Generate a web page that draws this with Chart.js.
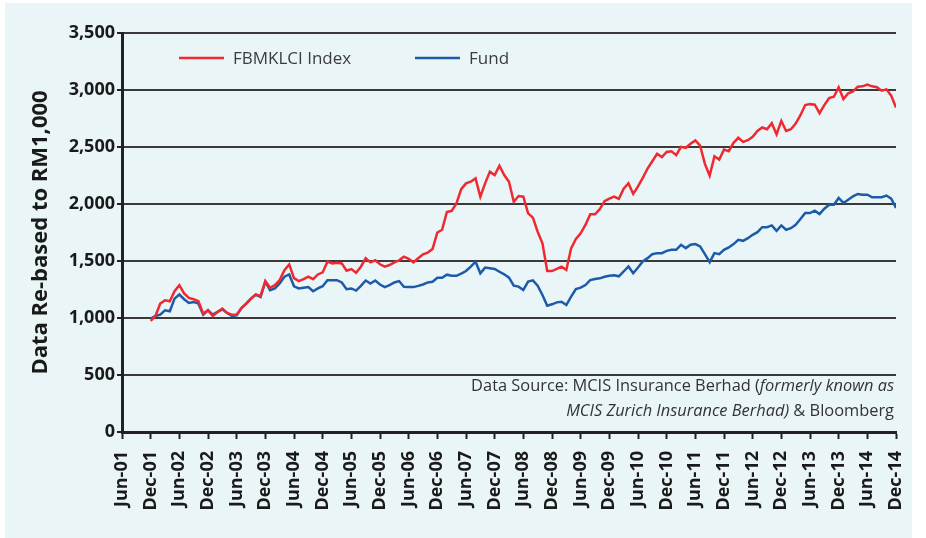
<!DOCTYPE html>
<html>
<head>
<meta charset="utf-8">
<script src="https://cdn.jsdelivr.net/npm/chart.js@4"></script>
<style>
  html, body { margin: 0; padding: 0; background: #ffffff; }
  canvas { display: block; }
</style>
</head>
<body>
<canvas id="fundChart" width="926" height="538"></canvas>
<script>
// x axis: months counted from Jun-01 (0) to Dec-14 (162), labelled every 6 months
var tickLabels = ["Jun-01", "Dec-01", "Jun-02", "Dec-02", "Jun-03", "Dec-03", "Jun-04", "Dec-04",
  "Jun-05", "Dec-05", "Jun-06", "Dec-06", "Jun-07", "Dec-07", "Jun-08", "Dec-08", "Jun-09", "Dec-09",
  "Jun-10", "Dec-10", "Jun-11", "Dec-11", "Jun-12", "Dec-12", "Jun-13", "Dec-13", "Jun-14", "Dec-14"];
var firstMonth = 6; // series start Dec-01

// monthly values, Dec-01 .. Dec-14
var fbmklciValues = [
  975, 1018, 1126, 1156, 1147, 1235, 1288, 1215, 1176, 1165,
  1147, 1038, 1068, 1018, 1053, 1082, 1044, 1029, 1029, 1088,
  1126, 1170, 1206, 1194, 1324, 1265, 1288, 1332, 1420, 1470,
  1350, 1324, 1341, 1362, 1341, 1382, 1400, 1494, 1479, 1485,
  1479, 1415, 1429, 1397, 1450, 1524, 1488, 1506, 1471, 1450,
  1465, 1488, 1506, 1538, 1518, 1488, 1524, 1559, 1574, 1606,
  1750, 1774, 1930, 1940, 2005, 2130, 2181, 2196, 2225, 2064,
  2181, 2284, 2254, 2336, 2254, 2196, 2020, 2070, 2064, 1918,
  1880, 1757, 1655, 1412, 1412, 1430, 1450, 1421, 1611, 1693,
  1743, 1816, 1909, 1909, 1955, 2025, 2047, 2065, 2045, 2135,
  2182, 2088, 2155, 2229, 2311, 2375, 2440, 2411, 2457, 2463,
  2428, 2501, 2493, 2528, 2557, 2513, 2352, 2249, 2419, 2390,
  2478, 2463, 2537, 2581, 2545, 2560, 2590, 2641, 2671, 2656,
  2709, 2612, 2729, 2641, 2656, 2706, 2779, 2868, 2876, 2871,
  2797, 2868, 2929, 2941, 3024, 2921, 2971, 2988, 3029, 3032,
  3047, 3032, 3024, 2994, 3006, 2950, 2847
];
var fundValues = [
  995, 1018, 1029, 1068, 1059, 1170, 1206, 1165, 1132, 1141,
  1126, 1029, 1068, 1029, 1053, 1076, 1044, 1018, 1024, 1088,
  1126, 1170, 1206, 1185, 1318, 1244, 1259, 1303, 1362, 1382,
  1278, 1259, 1265, 1271, 1235, 1259, 1279, 1332, 1332, 1332,
  1312, 1253, 1259, 1241, 1282, 1329, 1303, 1329, 1294, 1271,
  1288, 1312, 1324, 1274, 1271, 1271, 1282, 1294, 1312, 1318,
  1353, 1353, 1380, 1371, 1370, 1390, 1412, 1450, 1494, 1392,
  1442, 1436, 1430, 1406, 1383, 1354, 1284, 1275, 1246, 1319,
  1330, 1284, 1202, 1108, 1120, 1137, 1143, 1114, 1187, 1254,
  1266, 1289, 1333, 1342, 1348, 1362, 1370, 1375, 1366, 1408,
  1452, 1393, 1443, 1496, 1525, 1560, 1569, 1569, 1589, 1598,
  1598, 1642, 1613, 1642, 1648, 1628, 1560, 1490, 1569, 1560,
  1598, 1619, 1648, 1686, 1677, 1700, 1730, 1753, 1797, 1797,
  1812, 1765, 1812, 1774, 1788, 1818, 1868, 1921, 1921, 1941,
  1912, 1959, 1994, 1994, 2053, 2009, 2038, 2068, 2088, 2082,
  2082, 2059, 2059, 2059, 2074, 2047, 1965
];
var seriesNames = ["FBMKLCI Index", "Fund"];
var seriesColors = ["#ee2a30", "#1d5aa8"];

var fontFamily = "'Open Sans', 'Noto Sans', sans-serif";

function toPoints(values) {
  return values.map(function (v, i) { return { x: firstMonth + i, y: v }; });
}

// light blue panel behind everything
var panelBg = {
  id: "panelBg",
  beforeDraw: function (chart) {
    var ctx = chart.ctx;
    ctx.save();
    ctx.fillStyle = "#eaf5f8";
    ctx.fillRect(5, 3, 907, 535);
    ctx.restore();
  }
};

// legend inside plot + data source note
var notes = {
  id: "notes",
  afterDraw: function (chart) {
    var ctx = chart.ctx;
    ctx.save();
    ctx.font = "17px " + fontFamily;
    ctx.textBaseline = "middle";
    var legendX = [179, 415];
    chart.data.datasets.forEach(function (ds, i) {
      ctx.strokeStyle = ds.borderColor;
      ctx.lineWidth = 2.5;
      ctx.beginPath();
      ctx.moveTo(legendX[i], 58);
      ctx.lineTo(legendX[i] + 45, 58);
      ctx.stroke();
      ctx.fillStyle = "#3c3c3c";
      ctx.fillText(ds.label, legendX[i] + 54, 59);
    });

    var right = 894;
    var lines = [
      [["normal", "Data Source: MCIS Insurance Berhad ("], ["italic", "formerly known as"]],
      [["italic", "MCIS Zurich Insurance Berhad)"], ["normal", " & Bloomberg"]]
    ];
    var ys = [386, 411];
    ctx.fillStyle = "#333333";
    ctx.textAlign = "left";
    lines.forEach(function (parts, li) {
      var total = 0;
      parts.forEach(function (p) {
        ctx.font = p[0] + " 16.4px " + fontFamily;
        total += ctx.measureText(p[1]).width;
      });
      var x = right - total;
      parts.forEach(function (p) {
        ctx.font = p[0] + " 16.4px " + fontFamily;
        ctx.fillText(p[1], x, ys[li]);
        x += ctx.measureText(p[1]).width;
      });
    });
    ctx.restore();
  }
};

new Chart("fundChart", {
  type: "line",
  data: {
    datasets: [{
      label: seriesNames[0],
      data: toPoints(fbmklciValues),
      borderColor: seriesColors[0],
      borderWidth: 2.5,
      pointRadius: 0,
      tension: 0
    }, {
      label: seriesNames[1],
      data: toPoints(fundValues),
      borderColor: seriesColors[1],
      borderWidth: 2.5,
      pointRadius: 0,
      tension: 0
    }]
  },
  options: {
    responsive: false,
    animation: false,
    devicePixelRatio: 1,
    layout: { padding: { top: 33, right: 30, left: 0, bottom: 0 } },
    plugins: {
      legend: { display: false },
      tooltip: { enabled: false }
    },
    scales: {
      x: {
        type: "linear",
        min: 0,
        max: 162,
        afterFit: function (scale) {
          scale.height = 106;
          scale.paddingRight = 0;
        },
        afterBuildTicks: function (scale) {
          scale.ticks = tickLabels.map(function (t, i) { return { value: i * 6 }; });
        },
        ticks: {
          autoSkip: false,
          minRotation: 90,
          maxRotation: 90,
          padding: 12,
          color: "#1a1a1a",
          font: { family: fontFamily, size: 18, weight: "bold" },
          callback: function (value) { return tickLabels[value / 6]; }
        },
        grid: {
          drawOnChartArea: false,
          tickLength: 7,
          tickWidth: 2,
          tickColor: "#222222"
        },
        border: { color: "#222222", width: 3 }
      },
      y: {
        min: 0,
        max: 3500,
        afterFit: function (scale) { scale.width = 122; },
        ticks: {
          stepSize: 500,
          padding: 2,
          color: "#1a1a1a",
          font: { family: fontFamily, size: 18, weight: "bold" },
          callback: function (value) { return value.toLocaleString("en-US"); }
        },
        grid: {
          color: "#3a3a3a",
          lineWidth: 2,
          tickLength: 5,
          tickColor: "#222222"
        },
        border: { color: "#222222", width: 3 },
        title: {
          display: true,
          text: "Data Re-based to RM1,000",
          color: "#1a1a1a",
          font: { family: fontFamily, size: 22, weight: "bold" },
          padding: { top: 28, bottom: 0 }
        }
      }
    }
  },
  plugins: [panelBg, notes]
});
</script>
</body>
</html>
